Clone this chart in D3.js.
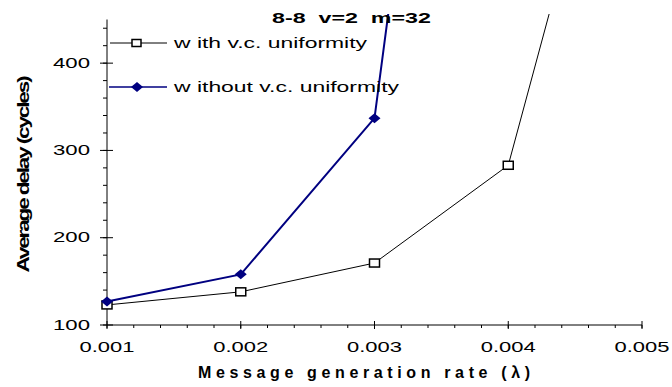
<!DOCTYPE html>
<html>
<head>
<meta charset="utf-8">
<script src="https://cdn.jsdelivr.net/npm/d3@7"></script>
<style>
  body { margin: 0; background: #fff; }
  svg text { font-family: "Liberation Sans", Arial, sans-serif; fill: #000; }
</style>
</head>
<body>
<svg id="chart" width="672" height="387"></svg>
<script>
// rates on the x axis
const rates = [0.001, 0.002, 0.003, 0.004, 0.005];
// average delay with v.c. uniformity (last point runs off the top)
const withUniformity = [123, 138, 171, 283, 850];
// average delay without v.c. uniformity
const withoutUniformity = [127, 158, 337, 1500];
const xTicks = [0.001, 0.002, 0.003, 0.004, 0.005];
const yTicks = [100, 200, 300, 400];
const seriesNames = ["w ith v.c. uniformity", "w ithout v.c. uniformity"];

const svg = d3.select("#chart");

const x = d3.scaleLinear().domain([0.001, 0.005]).range([107, 642]);
const y = d3.scaleLinear().domain([100, 450]).range([325, 19.5]);

//the original font is drawn wide, so stretch each label to its measured width
const stretch = (sel, w, how = "spacingAndGlyphs") => sel.attr("textLength", w).attr("lengthAdjust", how);

//clip so the steep lines stop just above the axis top
svg.append("clipPath").attr("id", "clip")
  .append("rect").attr("x", 100).attr("y", 14).attr("width", 560).attr("height", 320);

//x axis with minor ticks below
const xAxis = svg.append("g").attr("transform", "translate(0,325)");
xAxis.append("line").attr("x1", 107).attr("x2", 642).attr("stroke", "#000");
xAxis.selectAll(".minor").data(d3.range(0.001, 0.00501, 0.0002)).enter()
  .append("line")
  .attr("x1", (d) => x(d)).attr("x2", (d) => x(d))
  .attr("y1", 0).attr("y2", 3).attr("stroke", "#000");
xAxis.selectAll(".major").data(xTicks).enter()
  .append("line")
  .attr("x1", (d) => x(d)).attr("x2", (d) => x(d))
  .attr("y1", -4).attr("y2", 4).attr("stroke", "#000");
xAxis.selectAll("text").data(xTicks).enter()
  .append("text")
  .attr("x", (d) => x(d)).attr("y", 27)
  .attr("text-anchor", "middle")
  .style("font-size", "14px")
  .text((d) => d3.format(".3f")(d))
  .call(stretch, 55);

//y axis with minor ticks every 20
const yAxis = svg.append("g").attr("transform", "translate(107,0)");
yAxis.append("line").attr("y1", y(100)).attr("y2", y(450)).attr("stroke", "#000");
yAxis.selectAll(".minor").data(d3.range(100, 451, 20)).enter()
  .append("line")
  .attr("y1", (d) => y(d)).attr("y2", (d) => y(d))
  .attr("x1", -4).attr("x2", 0).attr("stroke", "#000");
yAxis.selectAll(".major").data(yTicks).enter()
  .append("line")
  .attr("y1", (d) => y(d)).attr("y2", (d) => y(d))
  .attr("x1", -7).attr("x2", 6).attr("stroke", "#000");
yAxis.selectAll("text").data(yTicks).enter()
  .append("text")
  .attr("x", -17).attr("y", (d) => y(d) + 4.5)
  .attr("text-anchor", "end")
  .style("font-size", "14px")
  .text((d) => d)
  .call(stretch, 37);

const line = d3.line().x((d) => x(d[0])).y((d) => y(d[1]));

//black series (open squares)
const blackData = rates.map((r, i) => [r, withUniformity[i]]);
svg.append("path").datum(blackData)
  .attr("clip-path", "url(#clip)")
  .attr("d", line).attr("fill", "none").attr("stroke", "#000").attr("stroke-width", 1);
svg.selectAll(".sq").data(blackData.filter((d) => d[1] < 450)).enter()
  .append("rect")
  .attr("x", (d) => x(d[0]) - 5).attr("y", (d) => y(d[1]) - 4)
  .attr("width", 10).attr("height", 8)
  .attr("fill", "#fff").attr("stroke", "#000").attr("stroke-width", 1.5);

//blue series (filled diamonds)
const blueData = withoutUniformity.map((v, i) => [rates[i], v]);
const diamond = (cx, cy) => `M${cx - 6},${cy}L${cx},${cy - 5}L${cx + 6},${cy}L${cx},${cy + 5}Z`;
svg.append("path").datum(blueData)
  .attr("clip-path", "url(#clip)")
  .attr("d", line).attr("fill", "none").attr("stroke", "#000080").attr("stroke-width", 2);
svg.selectAll(".dm").data(blueData.filter((d) => d[1] < 450)).enter()
  .append("path")
  .attr("d", (d) => diamond(x(d[0]), y(d[1])))
  .attr("fill", "#000080");

//legend
const legend = svg.append("g");
legend.append("line").attr("x1", 110).attr("x2", 167).attr("y1", 43).attr("y2", 43).attr("stroke", "#000");
legend.append("rect").attr("x", 132).attr("y", 39.5).attr("width", 9).attr("height", 7)
  .attr("fill", "#fff").attr("stroke", "#000").attr("stroke-width", 1.5);
legend.append("text").attr("x", 174).attr("y", 48).style("font-size", "14px")
  .text(seriesNames[0]).call(stretch, 193);
legend.append("line").attr("x1", 109).attr("x2", 167).attr("y1", 87).attr("y2", 87)
  .attr("stroke", "#000080").attr("stroke-width", 1.5);
legend.append("path").attr("d", diamond(137, 87)).attr("fill", "#000080");
legend.append("text").attr("x", 174).attr("y", 92).style("font-size", "14px")
  .text(seriesNames[1]).call(stretch, 225);

//title
svg.append("text").attr("x", 272).attr("y", 23)
  .style("font-size", "14px").style("font-weight", "bold")
  .attr("xml:space", "preserve")
  .text("8-8  v=2  m=32")
  .call(stretch, 159);

//axis titles
svg.append("text").attr("x", 198).attr("y", 378)
  .style("font-size", "16px").style("font-weight", "bold")
  .text("Message generation rate (\u03bb)")
  .call(stretch, 332, "spacing");

svg.append("text")
  .attr("transform", "translate(29,175) rotate(-90)")
  .attr("text-anchor", "middle")
  .style("font-size", "16px").style("font-weight", "bold").style("letter-spacing", "-1.5px")
  .text("Average delay (cycles)")
  .call(stretch, 195);
</script>
</body>
</html>
